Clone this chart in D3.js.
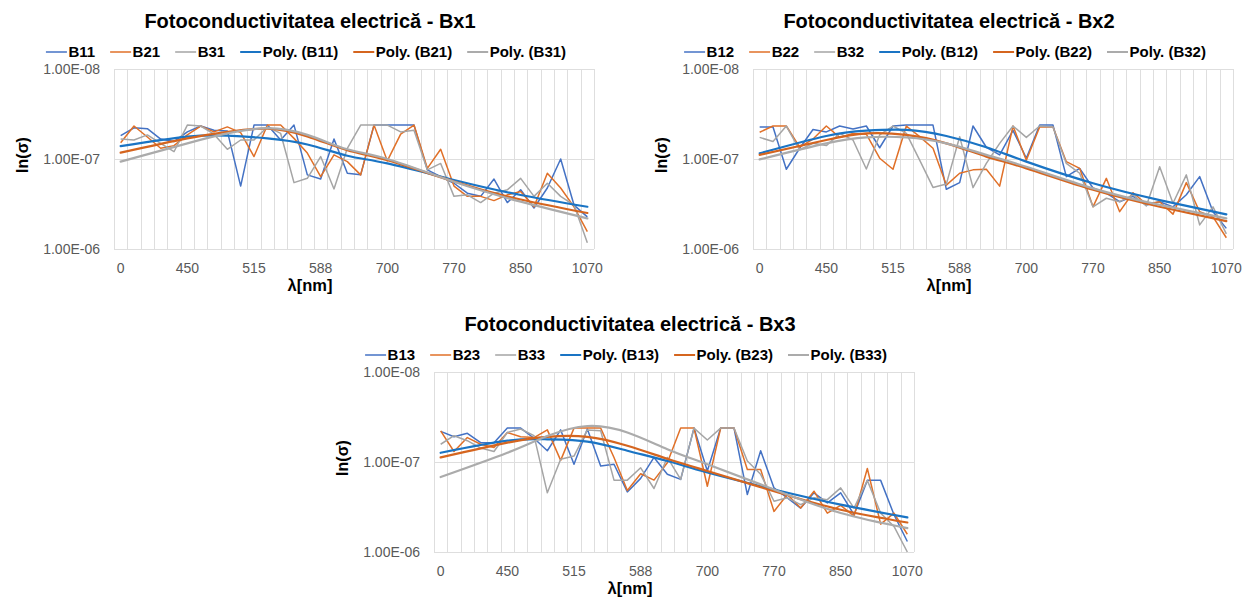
<!DOCTYPE html>
<html>
<head>
<meta charset="utf-8">
<script src="https://cdn.jsdelivr.net/npm/d3@7"></script>
<style>
  html, body { margin: 0; padding: 0; background: #fff; }
  svg { display: block; font-family: "Liberation Sans", Arial, sans-serif; }
</style>
</head>
<body>
<svg id="chart" width="1249" height="599"></svg>
<script>
// ---------- DATA ----------
const categories = [0, 410, 420, 430, 440, 450, 460, 470, 480, 500,
                    515, 530, 545, 560, 575, 588, 600, 620, 640, 670,
                    700, 710, 720, 740, 755, 770, 785, 800, 820, 835,
                    850, 880, 920, 970, 1020, 1070];
const yTicks = [1e-8, 1e-7, 1e-6];
const titles = ["Fotoconductivitatea electrică - Bx1",
                "Fotoconductivitatea electrică - Bx2",
                "Fotoconductivitatea electrică - Bx3"];
const seriesNames1 = ["B11", "B21", "B31"];
const seriesNames2 = ["B12", "B22", "B32"];
const seriesNames3 = ["B13", "B23", "B33"];

const b11 = [5.5e-8,4.5e-8,4.6e-8,6.0e-8,6.4e-8,5.0e-8,4.3e-8,4.8e-8,4.9e-8,2.0e-7,
             4.2e-8,4.2e-8,6.15e-8,4.2e-8,1.5e-7,1.67e-7,6.0e-8,1.44e-7,1.5e-7,4.2e-8,
             4.2e-8,4.2e-8,4.2e-8,1.32e-7,1.57e-7,1.86e-7,2.4e-7,2.6e-7,1.67e-7,3.05e-7,
             2.2e-7,3.5e-7,2.1e-7,1.0e-7,3.25e-7,4.4e-7];
const b21 = [6.6e-8,4.3e-8,5.7e-8,7.6e-8,7.1e-8,5.4e-8,4.3e-8,5.0e-8,4.4e-8,5.1e-8,
             9.4e-8,4.2e-8,4.2e-8,5.9e-8,8.6e-8,1.57e-7,9.0e-8,1.07e-7,1.5e-7,4.2e-8,
             1.05e-7,5.3e-8,4.2e-8,1.27e-7,7.8e-8,2.0e-7,2.6e-7,2.6e-7,2.9e-7,2.5e-7,
             2.3e-7,3.4e-7,1.44e-7,2.1e-7,3.4e-7,6.4e-7];
const b31 = [6.0e-8,6.15e-8,5.4e-8,6.7e-8,8.3e-8,4.2e-8,4.3e-8,5.3e-8,7.8e-8,6.15e-8,
             6.15e-8,4.4e-8,5.2e-8,1.83e-7,1.64e-7,9.4e-8,2.15e-7,7.6e-8,4.2e-8,4.2e-8,
             4.2e-8,5.0e-8,4.8e-8,1.32e-7,1.12e-7,2.6e-7,2.5e-7,3.05e-7,2.4e-7,2.2e-7,
             1.64e-7,2.6e-7,1.86e-7,2.6e-7,3.25e-7,8.5e-7];

const b12 = [4.4e-8,4.4e-8,1.3e-7,7.6e-8,4.7e-8,5.0e-8,4.3e-8,4.65e-8,4.3e-8,7.5e-8,
             4.3e-8,4.2e-8,4.2e-8,4.2e-8,2.17e-7,1.83e-7,4.3e-8,7.4e-8,9.0e-8,4.8e-8,
             9.8e-8,4.2e-8,4.2e-8,1.57e-7,1.27e-7,2.1e-7,2.4e-7,2.98e-7,2.6e-7,3.25e-7,
             2.98e-7,3.4e-7,2.5e-7,1.57e-7,3.85e-7,5.9e-7];
const b22 = [5.05e-8,4.3e-8,4.3e-8,7.4e-8,6.0e-8,4.3e-8,5.75e-8,5.2e-8,5.3e-8,9.8e-8,
             1.3e-7,4.3e-8,5.65e-8,7.6e-8,1.95e-7,1.44e-7,1.32e-7,1.3e-7,2.0e-7,4.3e-8,
             1.03e-7,4.4e-8,4.4e-8,1.07e-7,1.27e-7,3.4e-7,1.64e-7,3.85e-7,2.37e-7,3.16e-7,
             2.98e-7,4.1e-7,1.83e-7,3.85e-7,4.4e-7,7.5e-7];
const b32 = [5.75e-8,6.4e-8,4.3e-8,7.9e-8,6.7e-8,7.1e-8,5.2e-8,6.15e-8,1.29e-7,5.4e-8,
             4.3e-8,5.2e-8,1.03e-7,2.07e-7,1.9e-7,5.65e-8,2.08e-7,1.12e-7,6.7e-8,4.3e-8,
             5.75e-8,4.3e-8,4.4e-8,1.12e-7,1.44e-7,3.4e-7,2.73e-7,2.98e-7,2.5e-7,3.33e-7,
             1.22e-7,3.1e-7,1.5e-7,5.4e-7,3.4e-7,6.8e-7];

const b13 = [4.57e-8,5.25e-8,4.8e-8,6.1e-8,6.1e-8,4.2e-8,4.2e-8,5.45e-8,7.5e-8,4.4e-8,
             1.06e-7,4.3e-8,1.11e-7,1.06e-7,2.15e-7,1.52e-7,8.9e-8,1.37e-7,1.56e-7,4.2e-8,
             1.26e-7,4.2e-8,4.2e-8,2.3e-7,7.5e-8,1.94e-7,2.5e-7,3.25e-7,2.2e-7,2.85e-7,
             2.2e-7,3.85e-7,1.6e-7,1.6e-7,3.85e-7,7.65e-7];
const b23 = [4.5e-8,7.65e-8,5.35e-8,6.35e-8,6.9e-8,4.7e-8,5.25e-8,5.35e-8,4.4e-8,9.6e-8,
             4.2e-8,4.2e-8,4.2e-8,8.9e-8,2.07e-7,1.35e-7,1.59e-7,1.02e-7,4.2e-8,4.2e-8,
             1.86e-7,4.2e-8,4.2e-8,1.21e-7,1.21e-7,3.54e-7,2.3e-7,3.25e-7,2.11e-7,3.7e-7,
             3.03e-7,4.0e-7,1.18e-7,4.9e-7,3.7e-7,6.35e-7];
const b33 = [6.35e-8,5.1e-8,5.8e-8,7.0e-8,7.65e-8,4.7e-8,4.3e-8,5.1e-8,2.2e-7,9.3e-8,
             8.6e-8,4.4e-8,4.5e-8,1.59e-7,1.59e-7,1.16e-7,1.97e-7,8.9e-8,1.56e-7,4.2e-8,
             5.7e-8,4.2e-8,4.2e-8,9.75e-8,1.37e-7,2.73e-7,2.5e-7,2.98e-7,2.5e-7,2.62e-7,
             1.94e-7,3.25e-7,1.6e-7,3.7e-7,5.2e-7,1.0e-6];

// polynomial trendlines, read at these category indices
const trendIdx = [0, 5, 8, 11, 14, 17, 20, 25, 30, 35];
const polyB11 = [7.2e-8,5.65e-8,5.5e-8,5.9e-8,6.9e-8,9.2e-8,1.12e-7,1.71e-7,2.51e-7,3.39e-7];
const polyB21 = [8.5e-8,5.9e-8,5.0e-8,4.6e-8,5.6e-8,8.0e-8,1.03e-7,1.78e-7,2.82e-7,3.98e-7];
const polyB31 = [1.07e-7,6.7e-8,5.2e-8,4.55e-8,5.4e-8,7.8e-8,1.0e-7,1.79e-7,2.98e-7,4.57e-7];
const polyB12 = [8.65e-8,5.55e-8,4.85e-8,4.75e-8,5.55e-8,7.4e-8,1.07e-7,1.86e-7,2.86e-7,4.12e-7];
const polyB22 = [9.0e-8,6.15e-8,5.2e-8,5.4e-8,6.7e-8,9.4e-8,1.27e-7,2.2e-7,3.39e-7,4.9e-7];
const polyB32 = [1.01e-7,6.7e-8,5.75e-8,5.75e-8,6.7e-8,9.0e-8,1.22e-7,2.12e-7,3.24e-7,4.57e-7];
const polyB13 = [7.9e-8,5.8e-8,5.6e-8,5.95e-8,7.5e-8,9.75e-8,1.31e-7,2.02e-7,2.98e-7,4.13e-7];
const polyB23 = [8.9e-8,6.1e-8,5.25e-8,5.25e-8,6.6e-8,9.2e-8,1.26e-7,2.11e-7,3.39e-7,4.7e-7];
const polyB33 = [1.47e-7,7.9e-8,5.15e-8,3.98e-8,4.7e-8,7.2e-8,1.06e-7,2.02e-7,3.69e-7,5.43e-7];

// ---------- STYLE / LAYOUT ----------
const seriesColors = ["#4472C4", "#E07028", "#A5A5A5"];
const polyColors   = ["#1A74C4", "#D5651F", "#ABABAB"];
const PW = 480, PH = 180;

const panels = [
  { title: titles[0], names: seriesNames1, series: [b11, b21, b31], polys: [polyB11, polyB21, polyB31], left: 114, top: 69 },
  { title: titles[1], names: seriesNames2, series: [b12, b22, b32], polys: [polyB12, polyB22, polyB32], left: 753, top: 69 },
  { title: titles[2], names: seriesNames3, series: [b13, b23, b33], polys: [polyB13, polyB23, polyB33], left: 434, top: 372 }
];

const svg = d3.select("#chart");

function fmtE(v) {
  return v.toExponential(2).toUpperCase().replace(/E([+-])(\d)$/, (m, s, d) => "E" + s + "0" + d);
}

function drawPanel(p) {
  const g = svg.append("g");
  const n = categories.length;
  const x = d3.scaleBand().domain(d3.range(n)).range([p.left, p.left + PW]).padding(0);
  const y = d3.scaleLog().domain([1e-8, 1e-6]).range([p.top, p.top + PH]);
  const cx = i => x(i) + x.bandwidth() / 2;

  // vertical gridlines at category boundaries
  const bounds = d3.range(n + 1).map(i => i < n ? x(i) : p.left + PW);
  g.append("g").selectAll("line").data(bounds).join("line")
    .attr("x1", d => Math.round(d) + 0.5).attr("x2", d => Math.round(d) + 0.5)
    .attr("y1", p.top).attr("y2", p.top + PH)
    .attr("stroke", "#DEDEDE").attr("stroke-width", 1);

  // horizontal gridlines
  g.append("g").selectAll("line").data(yTicks).join("line")
    .attr("x1", p.left).attr("x2", p.left + PW)
    .attr("y1", d => Math.round(y(d)) + 0.5).attr("y2", d => Math.round(y(d)) + 0.5)
    .attr("stroke", "#DEDEDE").attr("stroke-width", 1);

  // y tick labels
  g.append("g").selectAll("text").data(yTicks).join("text")
    .attr("x", p.left - 14).attr("y", d => y(d) + 5)
    .attr("text-anchor", "end").attr("font-size", 14).attr("fill", "#595959")
    .text(fmtE);

  // x tick labels (every 5th category)
  const xt = d3.range(n).filter(i => i % 5 === 0);
  g.append("g").selectAll("text").data(xt).join("text")
    .attr("x", cx).attr("y", p.top + PH + 24)
    .attr("text-anchor", "middle").attr("font-size", 14).attr("fill", "#595959")
    .text(i => categories[i]);

  // series lines
  const line = d3.line().x((d, i) => cx(i)).y(d => y(d));
  p.series.forEach((s, k) => {
    g.append("path").datum(s).attr("d", line)
      .attr("fill", "none").attr("stroke", seriesColors[k])
      .attr("stroke-width", 1.5).attr("stroke-linejoin", "round");
  });

  // trendlines
  const tline = d3.line().x((d, j) => cx(trendIdx[j])).y(d => y(d)).curve(d3.curveNatural);
  p.polys.forEach((s, k) => {
    g.append("path").datum(s).attr("d", tline)
      .attr("fill", "none").attr("stroke", polyColors[k])
      .attr("stroke-width", 2.2).attr("stroke-linecap", "round");
  });

  // title
  const tc = p.left + 196;
  g.append("text").attr("x", tc).attr("y", p.top - 41)
    .attr("text-anchor", "middle").attr("font-size", 20).attr("font-weight", "bold")
    .attr("fill", "#000").text(p.title);

  // legend
  const items = p.names.map((nm, k) => ({ label: nm, color: seriesColors[k], w: 1.5 }))
    .concat(p.names.map((nm, k) => ({ label: "Poly. (" + nm + ")", color: polyColors[k], w: 2 })));
  const lg = g.append("g");
  let lx = 0;
  const ly = p.top - 17;
  items.forEach(it => {
    lg.append("line").attr("x1", lx).attr("x2", lx + 21).attr("y1", ly).attr("y2", ly)
      .attr("stroke", it.color).attr("stroke-width", it.w);
    const t = lg.append("text").attr("x", lx + 22.5).attr("y", ly + 5)
      .attr("font-size", 15).attr("font-weight", "bold").attr("fill", "#000").text(it.label);
    lx += 22.5 + t.node().getComputedTextLength() + 15;
  });
  lx -= 15;
  lg.attr("transform", `translate(${tc - 4 - lx / 2},0)`);

  // axis titles
  g.append("text").attr("transform", `translate(${p.left - 86},${p.top + PH / 2 - 4}) rotate(-90)`)
    .attr("text-anchor", "middle").attr("font-size", 16).attr("font-weight", "bold")
    .attr("fill", "#000").text("ln(σ)");
  g.append("text").attr("x", tc).attr("y", p.top + PH + 42)
    .attr("text-anchor", "middle").attr("font-size", 16.5).attr("font-weight", "bold")
    .attr("fill", "#000").text("λ[nm]");
}

panels.forEach(drawPanel);
</script>
</body>
</html>
